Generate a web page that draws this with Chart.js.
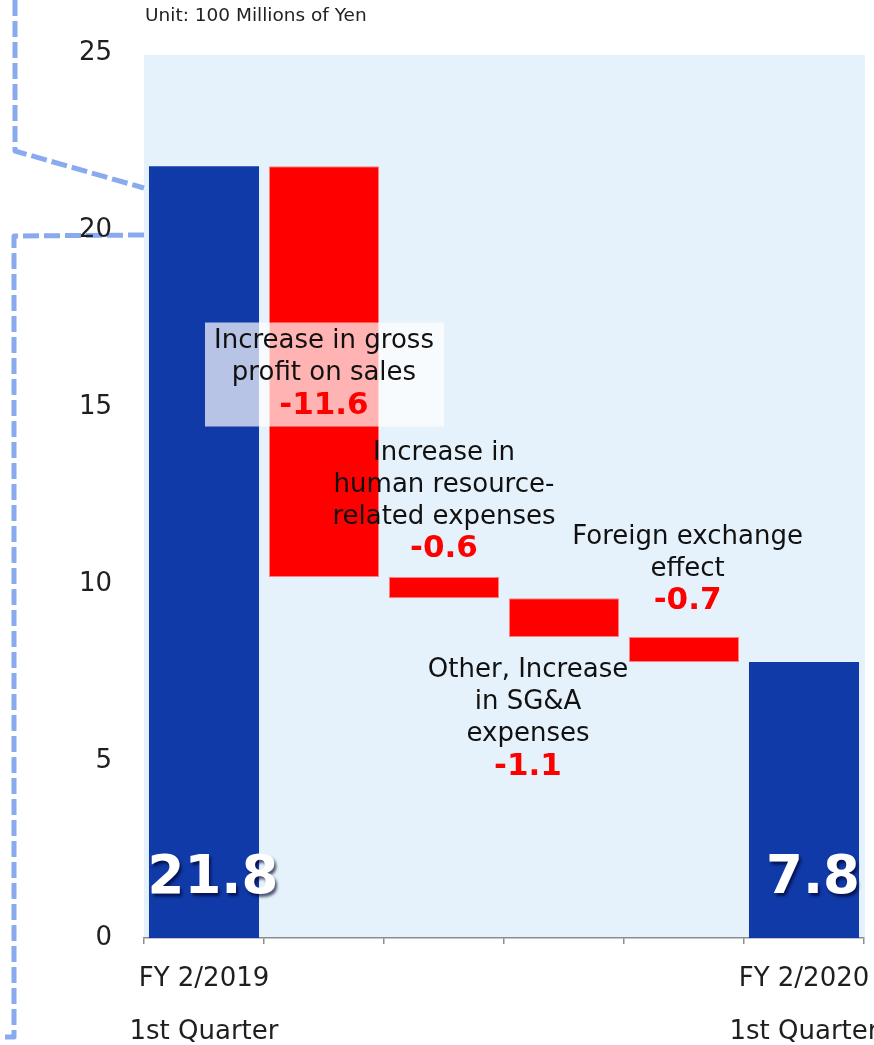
<!DOCTYPE html>
<html>
<head>
<meta charset="utf-8">
<script src="https://cdn.jsdelivr.net/npm/chart.js@4"></script>
<style>
  html, body { margin: 0; padding: 0; background: #fff; overflow: hidden; }
  #wrap { position: relative; width: 884px; height: 1045px; }
</style>
</head>
<body>
<div id="wrap"><canvas id="chart"></canvas></div>
<script>
// data
const categories = [["FY 2/2019", "1st Quarter"], "", "", "", "", ["FY 2/2020", "1st Quarter"]];
const startValue = 21.8;
const changes = [-11.6, -0.6, -1.1, -0.7];
const endValue = 7.8;
const changeLabels = [
  ["Increase in gross", "profit on sales"],
  ["Increase in", "human resource-", "related expenses"],
  ["Other, Increase", "in SG&A", "expenses"],
  ["Foreign exchange", "effect"],
];
const yTicks = [0, 5, 10, 15, 20, 25];
const unitText = "Unit: 100 Millions of Yen";

// where each change label sits (category index, y value)
const labelSpots = [
  { x: 1, y: 16.85, box: true },
  { x: 2, y: 13.7 },
  { x: 2.7, y: 7.55 },
  { x: 4.03, y: 11.33 },
];

const BLUE = "#103aa8";
const RED = "#ff0000";
const FONT = "'DejaVu Sans', Verdana, sans-serif";

// floating bars for the waterfall
const ranges = [[0, startValue]];
let level = startValue;
changes.forEach((c) => {
  const next = Math.round((level + c) * 10) / 10;
  ranges.push([next, level]);
  level = next;
});
ranges.push([0, endValue]);
const barColors = ranges.map((r, i) => (i === 0 || i === ranges.length - 1 ? BLUE : RED));

const decorLines = {
  id: "decorLines",
  beforeDraw(chart) {
    const { ctx, chartArea } = chart;
    ctx.save();
    // plot background
    ctx.fillStyle = "#e6f2fb";
    ctx.fillRect(chartArea.left, chartArea.top + 2, chartArea.right - chartArea.left + 1, chartArea.bottom - chartArea.top - 2);
    // dashed callout lines on the left
    ctx.strokeStyle = "#8aaaf0";
    ctx.lineWidth = 5;
    ctx.lineJoin = "round";
    ctx.setLineDash([16, 5]);
    ctx.beginPath();
    ctx.moveTo(15, 0);
    ctx.lineTo(15, 151);
    ctx.lineTo(chartArea.left, 188);
    ctx.stroke();
    ctx.beginPath();
    ctx.moveTo(chartArea.left, 235);
    ctx.lineTo(14, 236);
    ctx.lineTo(14, 1037);
    ctx.lineTo(0, 1037);
    ctx.stroke();
    ctx.restore();
  },
};

const annotations = {
  id: "annotations",
  afterDatasetsDraw(chart) {
    const { ctx } = chart;
    const xs = chart.scales.x;
    const ys = chart.scales.y;
    const meta = chart.getDatasetMeta(0);
    ctx.save();

    // change labels
    changeLabels.forEach((lines, i) => {
      const spot = labelSpots[i];
      const cx = xs.getPixelForValue(spot.x);
      const cy = ys.getPixelForValue(spot.y);
      const lh = 32;
      if (spot.box) {
        ctx.fillStyle = "rgba(255,255,255,0.7)";
        ctx.fillRect(cx - 119, cy - 19, 239, 104);
      }
      ctx.textAlign = "center";
      ctx.textBaseline = "middle";
      ctx.fillStyle = "#111";
      ctx.font = "26px " + FONT;
      lines.forEach((t, j) => ctx.fillText(t, cx, cy + j * lh));
      ctx.fillStyle = RED;
      ctx.font = "bold 31px " + FONT;
      ctx.fillText(changes[i].toFixed(1), cx, cy + lines.length * lh);
    });

    // totals inside the blue bars
    const totals = [[0, startValue], [ranges.length - 1, endValue]];
    ctx.font = "bold 53px " + FONT;
    ctx.textAlign = "center";
    ctx.textBaseline = "alphabetic";
    ctx.fillStyle = "#fff";
    ctx.shadowColor = "rgba(0,0,40,0.65)";
    ctx.shadowOffsetX = 2;
    ctx.shadowOffsetY = 3;
    ctx.shadowBlur = 3;
    totals.forEach(([idx, v]) => {
      const bar = meta.data[idx];
      ctx.fillText(v.toFixed(1), bar.x + 9, ys.getPixelForValue(0) - 45);
    });
    ctx.restore();
  },
  afterDraw(chart) {
    const { ctx, chartArea } = chart;
    ctx.save();
    ctx.font = "18.5px " + FONT;
    ctx.fillStyle = "#222";
    ctx.textBaseline = "middle";
    ctx.fillText(unitText, chartArea.left + 1, 16);
    ctx.restore();
  },
};

new Chart(document.getElementById("chart"), {
  type: "bar",
  data: {
    labels: categories,
    datasets: [
      {
        data: ranges,
        backgroundColor: barColors,
        borderColor: barColors.map((c) => (c === RED ? "#ff8080" : BLUE)),
        borderWidth: barColors.map((c) => (c === RED ? 1 : 0)),
        borderSkipped: false,
        barPercentage: 0.917,
        categoryPercentage: 1,
      },
    ],
  },
  options: {
    responsive: true,
    maintainAspectRatio: false,
    animation: false,
    layout: { padding: { top: 53, right: 20, left: 0, bottom: 0 } },
    plugins: { legend: { display: false }, tooltip: { enabled: false } },
    scales: {
      x: {
        grid: { display: true, drawOnChartArea: false, drawTicks: true, tickLength: 6, color: "#8c8c8c", lineWidth: 1.5 },
        border: { display: true, color: "#8c8c8c", width: 1.5 },
        ticks: {
          color: "#1f1f1f",
          font: { family: FONT, size: 26, lineHeight: 2.04 },
          padding: 9,
          maxRotation: 0,
          autoSkip: false,
        },
        afterFit(s) {
          s.height = 107;
          // let the outer labels run off the edge like the original
          s.paddingLeft = 0;
          s.paddingRight = 0;
        },
      },
      y: {
        min: 0,
        max: 25,
        grid: { display: false },
        border: { display: false },
        afterBuildTicks(s) { s.ticks = yTicks.map((v) => ({ value: v })); },
        ticks: { color: "#1f1f1f", font: { family: FONT, size: 26 }, padding: 24 },
        afterFit(s) { s.width = 144; },
      },
    },
  },
  plugins: [decorLines, annotations],
});
</script>
</body>
</html>
